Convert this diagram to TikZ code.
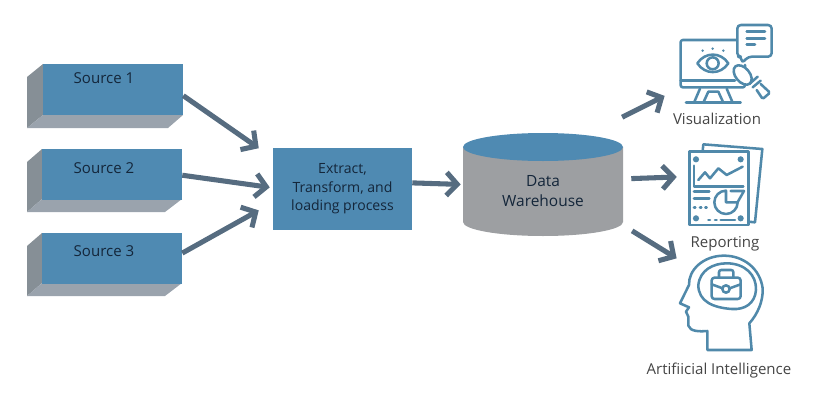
\documentclass[tikz,border=0pt]{standalone}
\usepackage{fontspec}
\setmainfont{Open Sans}
\usetikzlibrary{arrows.meta}

\definecolor{boxblue}{HTML}{4F8AB2}
\definecolor{sidegray}{HTML}{868F96}
\definecolor{lowgray}{HTML}{9AA3AD}
\definecolor{drumgray}{HTML}{9D9FA2}
\definecolor{flowblue}{HTML}{566C80}
\definecolor{iconblue}{HTML}{5089AA}
\definecolor{inktext}{HTML}{14263A}
\definecolor{captext}{HTML}{454545}

\tikzset{
  front/.style={fill=boxblue,minimum width=35mm,minimum height=12.75mm,inner sep=0pt},
  etlbox/.style={fill=boxblue,minimum width=34.75mm,minimum height=20.5mm,inner sep=0pt,align=center,
    text=inktext,font=\fontsize{10}{13.2}\selectfont},
  srctext/.style={text=inktext,font=\fontsize{10.7}{12}\selectfont,inner sep=0pt},
  caption/.style={text=captext,font=\fontsize{10.7}{12}\selectfont,inner sep=0pt},
  flow/.style={draw=flowblue,line width=3.6pt,-{Straight Barb[length=2.7mm,width=5.8mm]}},
  icon/.style={draw=iconblue,line width=1.8pt,line join=round,line cap=round}
}

\begin{document}
\begin{tikzpicture}[x=0.25mm,y=-0.25mm]
  \useasboundingbox (0,0) rectangle (823,400);

  \fill[sidegray] (27,77) -- (43,64) -- (43,115) -- (27,128) -- cycle;
  \fill[lowgray] (27,128) -- (43,115) -- (183,115) -- (168,128) -- cycle;
  \node[front] at (113,89.5) (src1) {};
  \node[srctext] at (104,78) (src1txt) {Source 1};

  \fill[sidegray] (27,162) -- (42,149) -- (42,199) -- (27,212) -- cycle;
  \fill[lowgray] (27,212) -- (42,199) -- (182,199) -- (165,212) -- cycle;
  \node[front] at (112,174) (src2) {};
  \node[srctext] at (104,168) (src2txt) {Source 2};

  \fill[sidegray] (27,246) -- (42,233) -- (42,283) -- (27,296) -- cycle;
  \fill[lowgray] (27,296) -- (42,283) -- (182,283) -- (165,296) -- cycle;
  \node[front] at (112,258) (src3) {};
  \node[srctext] at (104,251) (src3txt) {Source 3};

  \node[etlbox] at (342.5,189) (etl) {Extract,\\Transform, and\\loading process};

  \fill[drumgray] (463,147) -- (463,222) arc[start angle=180,end angle=360,x radius=20mm,y radius=3.5mm]
    -- (623,147) -- cycle;
  \fill[boxblue] (543,147) ellipse (20mm and 3.5mm);
  \node[minimum width=40mm,minimum height=25.75mm,inner sep=0pt] at (543,184.5) (dw) {};
  \node[align=center,text=inktext,inner sep=0pt,font=\fontsize{11}{14.4}\selectfont]
    at (543,191) (dwtxt) {Data\\Warehouse};

  \node[caption] at (717,119) (vistxt) {Visualization};
  \node[caption] at (725,244) (reptxt) {Reporting};
  \node[caption] at (719,371) (aitxt) {Artifiicial Intelligence};

  \node[minimum width=22.25mm,minimum height=19.5mm,inner sep=0pt] at (725.5,64) (visicon) {};
  \node[minimum width=18.5mm,minimum height=20.75mm,inner sep=0pt] at (725,184.5) (repicon) {};
  \node[minimum width=20.5mm,minimum height=24.25mm,inner sep=0pt] at (721,303) (aiicon) {};

  \draw[flow,shorten >=4.25mm] (src1.-5.3) -- (etl.156.4);
  \draw[flow,shorten >=0.75mm] (src2.-1.6) -- (etl.179.5);
  \draw[flow,shorten >=4mm] (src3.4.8) -- (etl.191.4);
  \draw[flow,shorten >=0.5mm] (etl.5.7) -- (dw.180);
  \draw[flow,shorten <=8.65mm,shorten >=4.5mm] (dw.47.6) -- (visicon.208.3);
  \draw[flow,shorten <=2mm,shorten >=2.75mm] (dw.4.9) -- (repicon.168.5);
  \draw[flow,shorten <=2.6mm,shorten >=0.9mm] (dw.-27.1) -- (aiicon.134);

  % visualization icon
  \begin{scope}[shift={(610,10)},x=0.08333mm,y=-0.08333mm]
    \draw[icon,rounded corners=1.5pt] (380,90) -- (212,90) -- (212,232) -- (405,232) -- (405,165);
    \draw[icon] (212,212) -- (375,212);
    \draw[icon] (270,236) -- (252,278);
    \draw[icon] (350,236) -- (368,278);
    \draw[icon] (228,278) -- (392,278);
    \draw[icon] (280,278) -- (295,245) -- (325,245) -- (340,278);
    \draw[icon] (262,160) .. controls (285,125) and (332,125) .. (355,160)
      .. controls (332,195) and (285,195) .. (262,160) -- cycle;
    \draw[icon] (308,160) circle (4.25pt);
    \fill[iconblue] (278,122) circle (1pt) (308,116) circle (1pt) (340,122) circle (1pt);
    \draw[icon,rounded corners=2.5pt] (395,160) -- (395,140) -- (382,140) -- (382,45) -- (485,45) -- (485,140) -- (415,140) -- cycle;
    \draw[icon] (410,65) -- (465,65) (410,85) -- (465,85) (410,103) -- (435,103);
    \draw[icon,fill=white,rotate around={-50:(398,195)}] (398,195) ellipse (8pt and 5pt);
    \draw[icon] (418,222) -- (443,200);
    \draw[icon] (428,232) -- (452,212);
    \draw[icon,rounded corners=1pt] (440,240) -- (458,267) -- (480,248) -- (452,222);
  \end{scope}

  % reporting icon
  \begin{scope}[shift={(620,135)},x=0.08333mm,y=-0.08333mm]
    \draw[icon] (248,48) -- (250,28) -- (427,42) -- (405,262) -- (385,260);
    \draw[icon] (208,50) rectangle (385,270);
    \fill[iconblue] (228,73) circle (2.2pt) (362,73) circle (2.2pt) (228,250) circle (2.2pt) (362,250) circle (2.2pt);
    \draw[icon] (222,92) -- (222,155) -- (370,155);
    \draw[icon] (235,135) -- (255,112) -- (270,130) -- (295,100) -- (320,120) -- (368,95);
    \draw[icon] (222,170) -- (268,170) (222,190) -- (268,190);
    \draw[icon] (222,218) -- (226,218) (240,218) -- (244,218) (256,218) -- (260,218);
    \draw[icon] (318,167) arc[start angle=90,end angle=360,radius=8.3pt] -- (318,202) -- cycle;
    \draw[icon] (332,168) -- (372,168) -- (352,203);
    \draw[icon] (265,255) -- (270,255) (285,255) -- (290,255) (302,255) -- (345,255);
  \end{scope}

  % head icon
  \begin{scope}[shift={(620,135)},x=0.08333mm,y=-0.08333mm]
    \draw[icon] (262,645) -- (395,645) -- (388,565) .. controls (415,535) and (430,495) .. (428,460)
      .. controls (420,400) and (370,362) .. (312,362) .. controls (250,362) and (205,405) .. (207,450)
      -- (180,505) -- (207,517) -- (198,530) -- (205,545) -- (205,572)
      .. controls (210,590) and (240,590) .. (262,588) -- cycle;
    \draw[icon] (235,450) .. controls (240,405) and (280,385) .. (320,385)
      .. controls (375,385) and (410,420) .. (408,465) .. controls (405,505) and (375,525) .. (335,522)
      .. controls (280,518) and (235,500) .. (235,450) -- cycle;
    \draw[icon,rounded corners=2pt] (275,428) rectangle (362,492);
    \draw[icon,rounded corners=1.5pt] (297,428) -- (297,405) -- (340,405) -- (340,428);
    \draw[icon] (275,448) -- (308,460) (329,460) -- (362,448);
    \draw[icon] (318,462) circle (2.6pt);
  \end{scope}
\end{tikzpicture}
\end{document}
